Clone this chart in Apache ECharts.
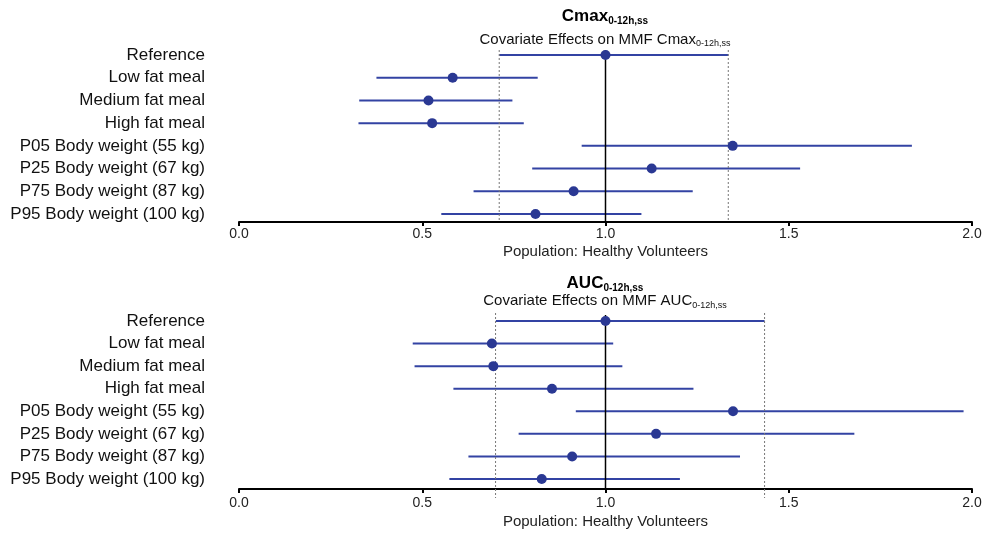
<!DOCTYPE html>
<html>
<head>
<meta charset="utf-8">
<script src="https://cdn.jsdelivr.net/npm/echarts@6/dist/echarts.min.js"></script>
<style>
html,body{margin:0;padding:0;background:#fff;}
#chart{width:991px;height:536px;}
</style>
</head>
<body>
<div id="chart"></div>
<script>
var categories = ['Reference','Low fat meal','Medium fat meal','High fat meal','P05 Body weight (55 kg)','P25 Body weight (67 kg)','P75 Body weight (87 kg)','P95 Body weight (100 kg)'];
var xTicks = [0, 0.5, 1.0, 1.5, 2.0];

var cmaxLo  = [0.710, 0.375, 0.328, 0.326, 0.935, 0.800, 0.640, 0.552];
var cmaxMid = [1.000, 0.583, 0.517, 0.527, 1.347, 1.126, 0.913, 0.809];
var cmaxHi  = [1.335, 0.815, 0.746, 0.777, 1.836, 1.531, 1.238, 1.098];
var cmaxLimits = [0.710, 1.335];

var aucLo  = [0.701, 0.474, 0.479, 0.585, 0.919, 0.763, 0.626, 0.574];
var aucMid = [1.000, 0.690, 0.694, 0.854, 1.348, 1.138, 0.909, 0.826];
var aucHi  = [1.434, 1.021, 1.046, 1.240, 1.977, 1.679, 1.367, 1.203];
var aucLimits = [0.700, 1.434];

var refValue = [1.0];

var FONT = '"Liberation Sans", Arial, Helvetica, sans-serif';
var LINE_BLUE = '#3343a3';
var DOT_BLUE = '#2a3893';

function barData(lo, hi){ return lo.map(function(v,i){ return [v, hi[i], i]; }); }
function dotData(mid){ return mid.map(function(v,i){ return [v, i]; }); }

function barSeries(idx, lo, hi){
  return {
    type:'custom', xAxisIndex:idx, yAxisIndex:idx, z:2,
    data: barData(lo, hi),
    encode:{x:[0,1], y:2},
    renderItem:function(params, api){
      var a = api.coord([api.value(0), api.value(2)]);
      var b = api.coord([api.value(1), api.value(2)]);
      return {type:'line', shape:{x1:a[0], y1:a[1], x2:b[0], y2:b[1]},
              style:{stroke:LINE_BLUE, lineWidth:2}};
    }
  };
}
function vlineSeries(idx, vals, dashed, topExt, botExt, color, width){
  return {
    type:'custom', xAxisIndex:idx, yAxisIndex:idx, z:3,
    data: vals.map(function(v){ return [v, 0]; }),
    encode:{x:0, y:1},
    renderItem:function(params, api){
      var cs = params.coordSys;
      var x = api.coord([api.value(0), 0])[0];
      return {type:'line', shape:{x1:x, y1:cs.y - topExt, x2:x, y2:cs.y + cs.height + botExt},
              style:{stroke:color, lineWidth:width, lineDash: dashed ? [2,2] : null}};
    }
  };
}
function dotSeries(idx, mid){
  return {type:'scatter', xAxisIndex:idx, yAxisIndex:idx, z:4, symbol:'circle', symbolSize:10,
          itemStyle:{color:DOT_BLUE, opacity:1}, data: dotData(mid), silent:true};
}
function xAxisDef(idx, offset, margin, nameGap){
  return {
    gridIndex:idx, type:'value', min:xTicks[0], max:xTicks[xTicks.length-1], interval:0.5,
    offset:offset, position:'bottom',
    name:'Population: Healthy Volunteers', nameLocation:'middle', nameGap:nameGap,
    nameTextStyle:{fontFamily:FONT, fontSize:15, color:'#222'},
    axisLine:{show:true, lineStyle:{color:'#000', width:2}},
    axisTick:{show:true, length:4, lineStyle:{color:'#000', width:2}},
    axisLabel:{fontFamily:FONT, fontSize:14, color:'#222', margin:margin,
               formatter:function(v){ return v.toFixed(1); }},
    splitLine:{show:false}
  };
}
function yAxisDef(idx){
  return {
    gridIndex:idx, type:'category', data:categories, inverse:true, boundaryGap:false,
    axisLine:{show:false}, axisTick:{show:false}, splitLine:{show:false},
    axisLabel:{fontFamily:FONT, fontSize:17, color:'#111', margin:34}
  };
}
function titleDef(top, gap, main, sub){
  return {
    left:605, top:top, textAlign:'center', padding:0,
    text:'{a|' + main + '}{b|0-12h,ss}',
    textStyle:{rich:{
      a:{fontFamily:FONT, fontSize:17, fontWeight:'bold', color:'#000', lineHeight:20},
      b:{fontFamily:FONT, fontSize:10, fontWeight:'bold', color:'#000', lineHeight:20, verticalAlign:'bottom', padding:[7,0,0,0]}
    }},
    subtext:'{a|Covariate Effects on MMF ' + sub + '}{b|0-12h,ss}',
    subtextStyle:{rich:{
      a:{fontFamily:FONT, fontSize:15, color:'#111', lineHeight:18},
      b:{fontFamily:FONT, fontSize:9, color:'#111', lineHeight:18, verticalAlign:'bottom', padding:[6,0,0,0]}
    }},
    itemGap:gap
  };
}

var chart = echarts.init(document.getElementById('chart'), null, {renderer:'canvas'});
chart.setOption({
  backgroundColor:'#fff',
  animation:false,
  title:[ titleDef(6, 6, 'Cmax', 'Cmax'), titleDef(273.5, 0, 'AUC', 'AUC') ],
  grid:[
    {left:239, width:733, top:55, height:159},
    {left:239, width:733, top:321, height:158}
  ],
  xAxis:[ xAxisDef(0, 8, 5, 22), xAxisDef(1, 10, 7, 25) ],
  yAxis:[ yAxisDef(0), yAxisDef(1) ],
  series:[
    barSeries(0, cmaxLo, cmaxHi),
    vlineSeries(0, cmaxLimits, true, 5, 6, '#777', 1),
    vlineSeries(0, refValue, false, 5, 8, '#000', 1.5),
    dotSeries(0, cmaxMid),
    barSeries(1, aucLo, aucHi),
    vlineSeries(1, aucLimits, true, 8, 19, '#777', 1),
    vlineSeries(1, refValue, false, 6, 10, '#000', 1.5),
    dotSeries(1, aucMid)
  ]
});
</script>
</body>
</html>
